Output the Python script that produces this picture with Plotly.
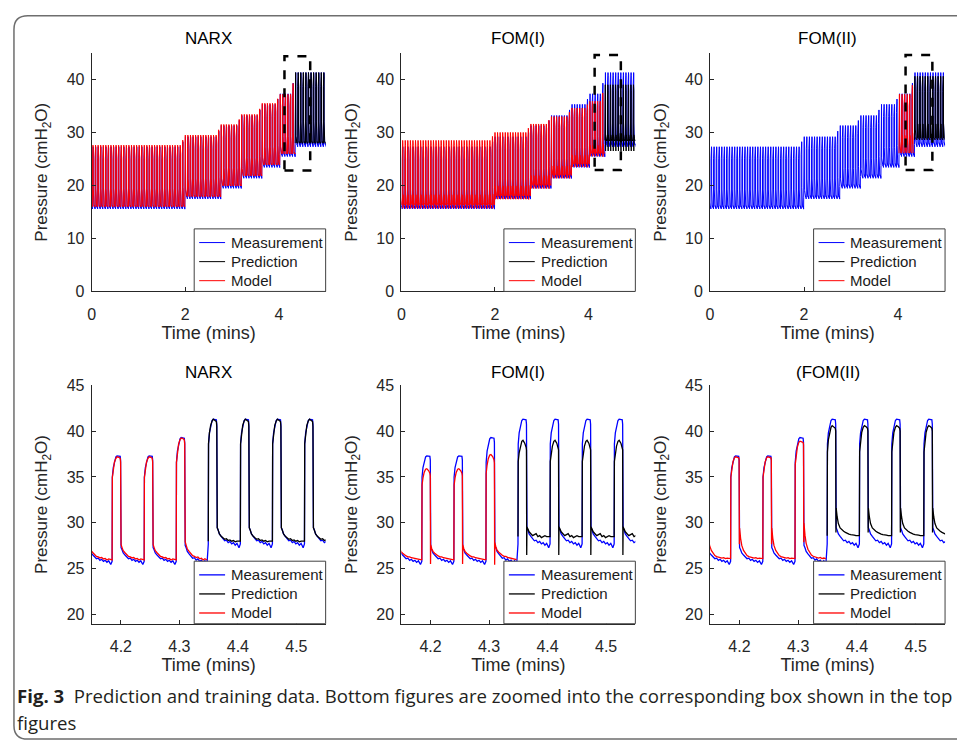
import plotly.graph_objects as go

W, H = 957, 751

# ---------------- data ----------------
top_titles = ["NARX", "FOM(I)", "FOM(II)"]
bottom_titles = ["NARX", "FOM(I)", "(FOM(II)"]
series_names = ["Measurement", "Prediction", "Model"]

top_xticks = [0, 2, 4]
top_yticks = [0, 10, 20, 30, 40]
bottom_xticks = [4.2, 4.3, 4.4, 4.5]
bottom_yticks = [20, 25, 30, 35, 40, 45]

# PEEP step segments (minutes) and measured end-expiratory / peak pressures
segment_start = [0.0, 1.97, 2.76, 3.16, 3.60, 3.98, 4.345]
meas_peep = [15.9, 17.8, 19.8, 21.7, 23.75, 25.8, 27.7]
meas_pip = [27.3, 29.2, 31.3, 33.2, 35.3, 37.3, 41.3]

breath_anchor = 4.185      # onset of a breath read in the zoomed panels
breath_period = 0.0548     # minutes between breaths
data_end = 5.0
prediction_start = 4.349

# model (segments 0-5) and prediction (segment 6) levels per method
narx_peep = [16.0, 17.9, 19.9, 21.8, 23.9, 25.95, 28.0]
narx_pip = [27.6, 29.5, 31.5, 33.4, 35.5, 37.2, 41.3]
fom1_peep = [16.3, 18.0, 20.0, 21.9, 24.0, 26.0, 28.5]
fom1_pip = [28.5, 30.0, 31.6, 33.0, 34.6, 35.9, 39.0]
fom2_peep = [None, None, None, None, None, 26.1, 28.6]
fom2_pip = [None, None, None, None, None, 37.2, 40.6]

# one breath: time after onset (min) and fraction of (peak - PEEP)
shape_dt = [0.0, 0.0004, 0.0020, 0.0040, 0.0065, 0.0085, 0.0115, 0.0138, 0.0145, 0.0149,
            0.0153, 0.0170, 0.0190, 0.0220, 0.0250, 0.0280, 0.0310, 0.0340, 0.0370, 0.0400,
            0.0430, 0.0460, 0.0490, 0.0525]
meas_shape = [0.00, 0.80, 0.89, 0.95, 0.99, 1.00, 1.00, 0.995, 0.96, 0.30,
              0.13, 0.11, 0.08, 0.06, 0.04, 0.025, 0.03, 0.01, 0.02, 0.00,
              0.01, -0.01, 0.005, -0.03]
narx_model_shape = [0.00, 0.80, 0.89, 0.95, 0.985, 1.00, 0.995, 0.985, 0.95, 0.30,
                    0.15, 0.12, 0.09, 0.07, 0.05, 0.035, 0.03, 0.02, 0.025, 0.01,
                    0.015, 0.00, 0.01, 0.00]
narx_pred_shape = [0.00, 0.80, 0.89, 0.95, 0.985, 1.00, 0.99, 0.98, 0.94, 0.30,
                   0.11, 0.09, 0.06, 0.04, 0.03, 0.015, 0.02, 0.005, 0.01, 0.00,
                   0.005, -0.005, 0.00, 0.00]
fom1_model_shape = [0.00, 0.82, 0.90, 0.96, 0.995, 1.00, 0.98, 0.95, 0.92, -0.05,
                    0.16, 0.12, 0.09, 0.07, 0.05, 0.04, 0.03, 0.03, 0.02, 0.015,
                    0.01, 0.01, 0.005, 0.00]
fom1_pred_shape = [0.00, 0.78, 0.87, 0.94, 0.99, 1.00, 0.97, 0.93, 0.90, -0.19,
                   0.10, 0.08, 0.05, 0.03, 0.01, 0.02, 0.03, 0.00, 0.01, -0.01,
                   0.00, 0.01, 0.00, 0.00]
fom2_model_shape = [0.00, 0.80, 0.89, 0.95, 0.99, 1.00, 0.995, 0.99, 0.97, 0.14,
                    0.30, 0.20, 0.13, 0.08, 0.05, 0.03, 0.02, 0.015, 0.01, 0.005,
                    0.01, 0.00, 0.005, 0.00]
fom2_pred_shape = [0.00, 0.76, 0.87, 0.94, 0.985, 1.00, 0.99, 0.975, 0.95, 0.03,
                   0.25, 0.17, 0.11, 0.07, 0.05, 0.04, 0.03, 0.02, 0.015, 0.01,
                   0.01, 0.005, 0.00, 0.00]

# dashed zoom boxes in the top panels
box_x0 = [4.12, 4.13, 4.16]
box_x1 = [4.67, 4.69, 4.73]
box_y0 = [22.8, 22.9, 22.9]
box_y1 = [44.4, 44.6, 44.6]

# ---------------- build waveforms ----------------
n_back = int(breath_anchor / breath_period) + 1
onsets = []
k = -n_back
while True:
    t = breath_anchor + k * breath_period
    if t >= data_end:
        break
    onsets.append(round(t, 5))
    k += 1


def seg_of(t):
    s = 0
    for i, st in enumerate(segment_start):
        if t >= st:
            s = i
    return s


def wave(peep, pip, shape, t_lo, t_hi):
    xs, ys = [], []
    for i, t0 in enumerate(onsets):
        if not (t_lo <= t0 < t_hi):
            continue
        s = seg_of(t0)
        if pip[s] is None:
            continue
        P = pip[s]
        if i + 1 < len(onsets) and s + 1 < len(pip) and seg_of(onsets[i + 1]) > s and pip[s + 1] is not None:
            P = (pip[s] + pip[s + 1]) / 2
        B = peep[s]
        for dt, f in zip(shape_dt, shape):
            xs.append(round(t0 + dt, 5))
            ys.append(round(B + f * (P - B), 3))
    return xs, ys


methods = [
    (narx_peep, narx_pip, narx_model_shape, narx_pred_shape),
    (fom1_peep, fom1_pip, fom1_model_shape, fom1_pred_shape),
    (fom2_peep, fom2_pip, fom2_model_shape, fom2_pred_shape),
]

meas_x, meas_y = wave(meas_peep, meas_pip, meas_shape, -1, 99)

# ---------------- layout geometry (pixels) ----------------
col_x = [(88, 323), (399, 634), (709, 945)]
row_y = [(46, 290), (386, 630)]


def fx(p):
    return p / W


def fy(p):
    return 1 - p / H


FONT = "Liberation Sans, Arial, sans-serif"
INK = "#262626"
colors = {"Measurement": "#0000ff", "Prediction": "#000000", "Model": "#ff0000"}

fig = go.Figure()
layout = dict(
    width=W, height=H, margin=dict(l=0, r=0, t=0, b=0),
    paper_bgcolor="white", plot_bgcolor="white",
    showlegend=False, annotations=[], shapes=[],
    font=dict(family=FONT, color=INK),
)

for r in range(2):
    for c in range(3):
        idx = r * 3 + c + 1
        xa = "xaxis" if idx == 1 else f"xaxis{idx}"
        ya = "yaxis" if idx == 1 else f"yaxis{idx}"
        xr = "x" if idx == 1 else f"x{idx}"
        yr = "y" if idx == 1 else f"y{idx}"
        peep, pip, mshape, pshape = methods[c]
        mod_x, mod_y = wave(peep, pip, mshape, -1, prediction_start)
        pre_x, pre_y = wave(peep, pip, pshape, prediction_start, 99)
        lw = 1.0 if r == 0 else 1.3
        for name, xs, ys in [("Measurement", meas_x, meas_y),
                             ("Prediction", pre_x, pre_y),
                             ("Model", mod_x, mod_y)]:
            fig.add_trace(go.Scatter(
                x=xs, y=ys, mode="lines", name=name, xaxis=xr, yaxis=yr,
                line=dict(color=colors[name], width=lw), hoverinfo="skip"))
        x0, x1 = col_x[c]
        y0, y1 = row_y[r]
        if r == 0:
            xrange, xt, yrange, yt = [0, 5], top_xticks, [0, 45], top_yticks
            xtt = [str(v) for v in xt]
        else:
            xrange, xt, yrange, yt = [4.15, 4.55], bottom_xticks, [19, 45], bottom_yticks
            xtt = [f"{v:.1f}" for v in xt]
        common = dict(showline=True, linecolor=INK, linewidth=1, ticks="inside",
                      ticklen=4, tickcolor=INK, tickwidth=1, showgrid=False,
                      zeroline=False, mirror=False,
                      tickfont=dict(family=FONT, size=16, color=INK))
        layout[xa] = dict(domain=[fx(x0), fx(x1)], range=xrange, tickvals=xt,
                          ticktext=xtt, anchor=yr, ticklabelstandoff=8,
                          title=dict(text="Time (mins)", standoff=4,
                                     font=dict(family=FONT, size=18, color=INK)),
                          **common)
        layout[ya] = dict(domain=[fy(y1), fy(y0)], range=yrange, tickvals=yt,
                          anchor=xr, ticklabelstandoff=3,
                          title=dict(text="Pressure (cmH<sub>2</sub>O)", standoff=14,
                                     font=dict(family=FONT, size=17, color=INK)),
                          **common)

        # legend box (bottom-right inside the axes)
        lx0, lx1 = x1 - 132, x1
        ly0, ly1 = y1 - 64, y1
        layout["shapes"].append(dict(
            type="rect", xref="paper", yref="paper", x0=fx(lx0), x1=fx(lx1),
            y0=fy(ly1), y1=fy(ly0), fillcolor="white",
            line=dict(color="#404040", width=1), layer="above"))
        for j, name in enumerate(series_names):
            ry = ly0 + 14 + 19.5 * j
            layout["shapes"].append(dict(
                type="line", xref="paper", yref="paper", x0=fx(lx0 + 5), x1=fx(lx0 + 31),
                y0=fy(ry), y1=fy(ry), line=dict(color=colors[name], width=lw),
                layer="above"))
            layout["annotations"].append(dict(
                x=fx(lx0 + 35), y=fy(ry), xref="paper", yref="paper", text=name,
                showarrow=False, xanchor="left", yanchor="middle",
                font=dict(family=FONT, size=15, color="#1a1a1a")))

        titles = top_titles if r == 0 else bottom_titles
        ty = 31 if r == 0 else 373
        layout["annotations"].append(dict(
            x=fx((x0 + x1) / 2), y=fy(ty), xref="paper", yref="paper",
            text=titles[c], showarrow=False, xanchor="center", yanchor="middle",
            font=dict(family=FONT, size=17, color="black")))
        if r == 0:
            layout["shapes"].append(dict(
                type="rect", xref=xr, yref=yr, x0=box_x0[c], x1=box_x1[c],
                y0=box_y0[c], y1=box_y1[c],
                line=dict(color="black", width=2.5, dash="dash")))

# caption
CAP_FONT = "Open Sans, Noto Sans, sans-serif"
layout["annotations"].append(dict(
    x=fx(11), y=fy(703), xref="paper", yref="paper", xanchor="left", yanchor="middle",
    text="<b>Fig. 3</b>  Prediction and training data. Bottom figures are zoomed into the corresponding box shown in the top",
    showarrow=False, font=dict(family=CAP_FONT, size=18.6, color="#231f20")))
layout["annotations"].append(dict(
    x=fx(11), y=fy(731), xref="paper", yref="paper", xanchor="left", yanchor="middle",
    text="figures", showarrow=False,
    font=dict(family=CAP_FONT, size=18.6, color="#231f20")))

# rounded border
def P(x, y):
    return f"{fx(x):.5f},{fy(y):.5f}"
path = (f"M {P(10, 22)} L {P(10, 734)} Q {P(10, 748)} {P(24, 748)} "
        f"L {P(975, 748)} L {P(975, 8)} L {P(24, 8)} Q {P(10, 8)} {P(10, 22)} Z")
layout["shapes"].append(dict(type="path", xref="paper", yref="paper", path=path,
                             line=dict(color="#6e6e6e", width=1.5), layer="below"))

fig.update_layout(**layout)
fig.write_html("out.html", config={"displayModeBar": False},
               post_script="document.body.style.margin='0';document.body.style.overflow='hidden';")
